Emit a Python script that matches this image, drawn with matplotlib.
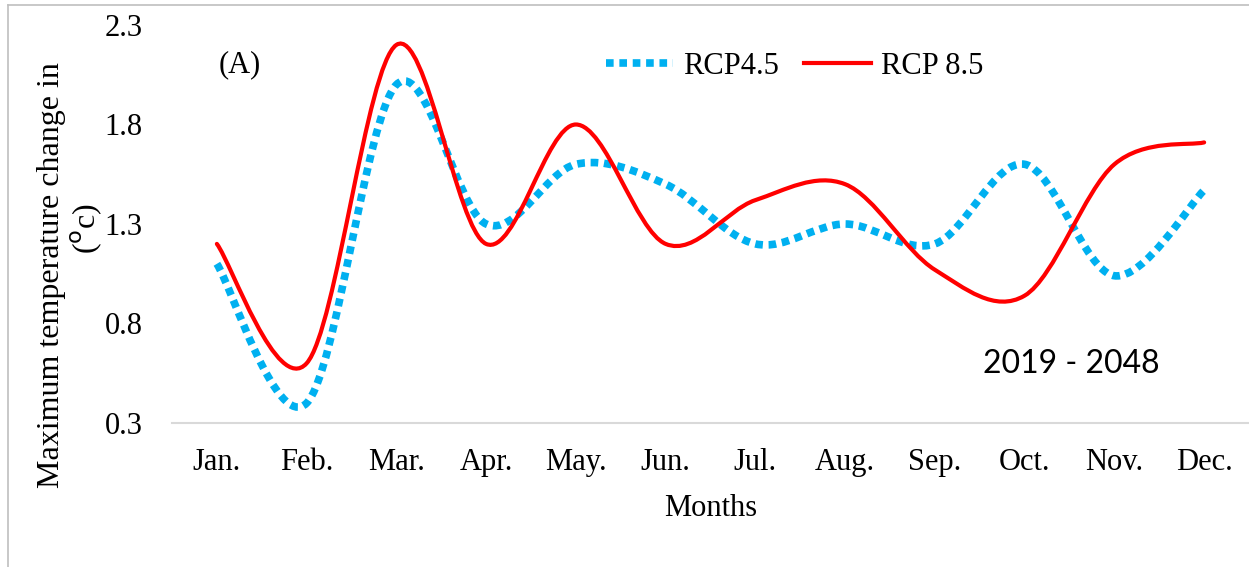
import matplotlib
matplotlib.use("Agg")
import matplotlib.pyplot as plt
from matplotlib.path import Path
from matplotlib.patches import PathPatch
from matplotlib.lines import Line2D
import numpy as np

months = ['Jan.', 'Feb.', 'Mar.', 'Apr.', 'May.', 'Jun.',
          'Jul.', 'Aug.', 'Sep.', 'Oct.', 'Nov.', 'Dec.']
rcp45 = [1.10, 0.40, 2.00, 1.30, 1.60, 1.50, 1.20, 1.30, 1.20, 1.60, 1.04, 1.47]
rcp85 = [1.20, 0.60, 2.20, 1.20, 1.80, 1.20, 1.42, 1.50, 1.07, 0.94, 1.60, 1.71]
yticks = [0.3, 0.8, 1.3, 1.8, 2.3]

plt.rcParams['font.family'] = ['Liberation Serif', 'DejaVu Serif']


def smooth_path(x, y):
    """Excel-like smoothed line: cubic Bezier segments through every point"""
    pts = np.column_stack([x, y]).astype(float)
    ext = np.vstack([pts[0], pts, pts[-1]])
    verts = [pts[0]]
    codes = [Path.MOVETO]
    for i in range(len(pts) - 1):
        p0, p1, p2, p3 = ext[i], ext[i + 1], ext[i + 2], ext[i + 3]
        verts += [p1 + (p2 - p0) / 6, p2 - (p3 - p1) / 6, p2]
        codes += [Path.CURVE4] * 3
    return Path(verts, codes)


fig = plt.figure(figsize=(12.49, 5.67), dpi=100)
ax = fig.add_axes([172 / 1249, 1 - 423 / 567, 1077 / 1249, 398 / 567])

x = np.arange(len(months))
blue = '#00B0F0'
red = '#FF0000'

ax.add_patch(PathPatch(smooth_path(x, rcp45), fill=False, edgecolor=blue,
                       lw=5.5, linestyle=(0, (1.0, 0.75)), capstyle='butt',
                       zorder=3))
ax.add_patch(PathPatch(smooth_path(x, rcp85), fill=False, edgecolor=red,
                       lw=3.0, capstyle='round', zorder=4))

ax.set_xlim(-0.5, len(months) - 0.5)
ax.set_ylim(0.3, 2.3)
ax.set_yticks(yticks)
ax.set_yticklabels([f'{v:.1f}' for v in yticks])
ax.set_xticks(x)
ax.set_xticklabels(months)
ax.tick_params(length=0, labelsize=22, colors='black')
ax.tick_params(axis='x', pad=18)
ax.tick_params(axis='y', pad=21)

for side in ['top', 'right', 'left']:
    ax.spines[side].set_visible(False)
ax.spines['bottom'].set_color('#D9D9D9')
ax.spines['bottom'].set_linewidth(1.5)

ax.set_xlabel('Months', fontsize=22, labelpad=12)

fig.text(52 / 1249, 1 - 275 / 567, 'Maximum temperature change in',
         rotation=90, ha='center', va='center', fontsize=23)
fig.text(86 / 1249, 1 - 228 / 567, '($^{\\mathrm{o}}$c)',
         rotation=90, ha='center', va='center', fontsize=23)

fig.text(240 / 1249, 1 - 65 / 567, '(A)', ha='center', va='center',
         fontsize=22)

handles = [Line2D([], [], color=blue, lw=5.5, linestyle=(0, (1.0, 0.75))),
           Line2D([], [], color=red, lw=3.0)]
fig.legend(handles, ['RCP4.5', 'RCP 8.5'], ncol=2, frameon=False,
           loc='upper left', bbox_to_anchor=(606 / 1249, 1 - 52 / 567),
           fontsize=22, handlelength=2.2, handletextpad=0.33,
           columnspacing=0.8, borderpad=0, borderaxespad=0)

fig.text(1071 / 1249, 1 - 364 / 567, '2019 - 2048', ha='center', va='center',
         fontsize=23, family=['Lato', 'DejaVu Sans'])

# thin outer frame of the chart area
fig.add_artist(Line2D([8 / 1249, 1], [1 - 5 / 567] * 2, color='#BFBFBF', lw=1.2))
fig.add_artist(Line2D([8 / 1249] * 2, [0, 1 - 5 / 567], color='#BFBFBF', lw=1.2))

fig.savefig('out.png', dpi=100)
